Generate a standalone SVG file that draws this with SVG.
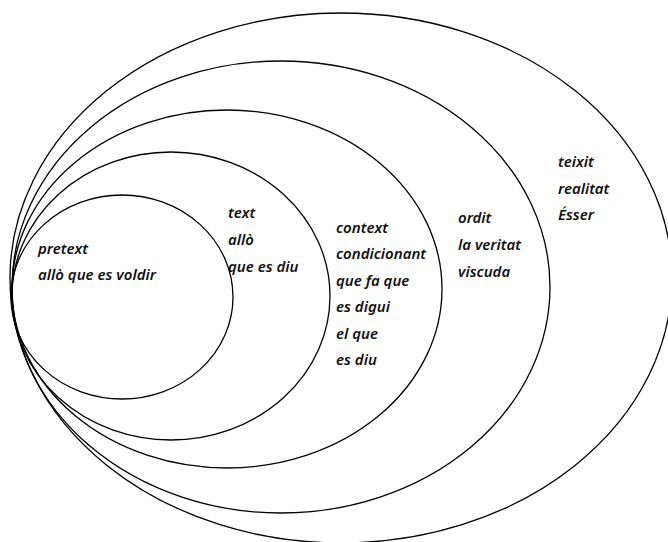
<svg xmlns="http://www.w3.org/2000/svg" width="668" height="542" viewBox="0 0 668 542">
<style>
.ring{fill:none;stroke:#000;stroke-width:1.3}
.lbl{font-family:"Noto Sans","DejaVu Sans",sans-serif;font-size:15px;font-style:italic;font-weight:600;fill:#111}
</style>
<rect width="668" height="542" fill="#fff"/>
<g id="connectors"></g>
<g id="teixit">
<ellipse class="ring" cx="341" cy="278" rx="331" ry="265"/>
<text class="lbl" x="558" y="167">teixit</text>
<text class="lbl" x="558" y="194">realitat</text>
<text class="lbl" x="558" y="220">Ésser</text>
</g>
<g id="ordit">
<ellipse class="ring" cx="281" cy="287" rx="269" ry="226"/>
<text class="lbl" x="458" y="223">ordit</text>
<text class="lbl" x="458" y="250">la veritat</text>
<text class="lbl" x="458" y="277">viscuda</text>
</g>
<g id="context">
<ellipse class="ring" cx="227" cy="289" rx="215" ry="179"/>
<text class="lbl" x="336" y="233">context</text>
<text class="lbl" x="336" y="259">condicionant</text>
<text class="lbl" x="336" y="286">que fa que</text>
<text class="lbl" x="336" y="312">es digui</text>
<text class="lbl" x="336" y="339">el que</text>
<text class="lbl" x="336" y="365">es diu</text>
</g>
<g id="text">
<ellipse class="ring" cx="171" cy="296" rx="159" ry="144"/>
<text class="lbl" x="228" y="218">text</text>
<text class="lbl" x="228" y="245">allò</text>
<text class="lbl" x="228" y="272">que es diu</text>
</g>
<g id="pretext">
<ellipse class="ring" cx="122" cy="297" rx="111" ry="102"/>
<text class="lbl" x="38" y="254">pretext</text>
<text class="lbl" x="38" y="280">allò que es voldir</text>
</g>
</svg>
